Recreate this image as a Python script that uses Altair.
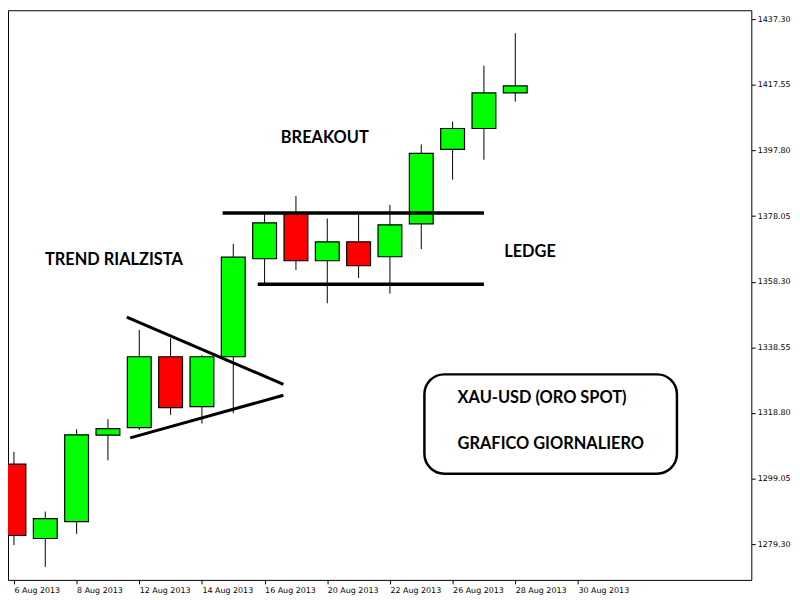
import altair as alt
import pandas as pd

# ---- data ----
trading_days = ["6 Aug 2013", "7 Aug 2013", "8 Aug 2013", "9 Aug 2013", "12 Aug 2013",
                "13 Aug 2013", "14 Aug 2013", "15 Aug 2013", "16 Aug 2013", "19 Aug 2013",
                "20 Aug 2013", "21 Aug 2013", "22 Aug 2013", "23 Aug 2013", "26 Aug 2013",
                "27 Aug 2013", "28 Aug 2013", "29 Aug 2013", "30 Aug 2013"]
opens = [1303.4, 1281.0, 1286.1, 1312.1, 1314.4, 1335.7, 1320.7, 1335.7, 1365.2,
         1378.8, 1364.6, 1370.3, 1365.8, 1375.7, 1398.1, 1404.4, 1415.1]
closes = [1281.9, 1287.0, 1312.2, 1314.1, 1335.7, 1320.4, 1335.7, 1365.7, 1376.0,
          1364.6, 1370.3, 1363.1, 1375.4, 1396.9, 1404.4, 1415.1, 1417.2]
highs = [1307.1, 1289.1, 1313.9, 1316.9, 1343.8, 1341.3, 1336.2, 1369.7, 1379.1,
         1384.1, 1377.3, 1378.8, 1381.4, 1399.6, 1406.5, 1423.3, 1433.1]
lows = [1279.0, 1272.5, 1282.4, 1304.5, 1313.7, 1318.2, 1315.6, 1318.7, 1357.8,
        1361.8, 1351.8, 1359.4, 1354.7, 1368.1, 1389.0, 1395.0, 1412.5]

y_ticks = [1279.30, 1299.05, 1318.80, 1338.55, 1358.30, 1378.05, 1397.80, 1417.55, 1437.30]
x_ticks = [0, 2, 4, 6, 8, 10, 12, 14, 16, 18]

# drawn lines (start/end in bar index and price)
seg_x1 = [6.66, 7.78, 3.60, 3.71]
seg_y1 = [1379.0, 1357.5, 1347.6, 1311.3]
seg_x2 = [15.0, 15.0, 8.60, 8.60]
seg_y2 = [1379.0, 1357.5, 1327.4, 1324.1]
seg_w = [3.5, 3.5, 3, 3]

# annotations
ann_text = ["TREND RIALZISTA", "BREAKOUT", "LEDGE"]
ann_x = [3.19, 9.92, 16.47]
ann_y = [1364.9, 1401.5, 1367.2]

box_text = ["XAU-USD (ORO SPOT)", "GRAFICO GIORNALIERO"]
box_tx = [14.16, 14.16]
box_ty = [1323.3, 1309.5]
box_x = [13.10]
box_x2 = [21.16]
box_y = [1330.4]
box_y2 = [1300.5]

# ---- tables ----
candles = pd.DataFrame({"i": list(range(len(opens))), "open": opens, "close": closes,
                        "high": highs, "low": lows})
segs = pd.DataFrame({"x1": seg_x1, "y1": seg_y1, "x2": seg_x2, "y2": seg_y2, "w": seg_w})
anns = pd.DataFrame({"t": ann_text, "x": ann_x, "y": ann_y})
btxt = pd.DataFrame({"t": box_text, "x": box_tx, "y": box_ty})
box = pd.DataFrame({"x": box_x, "x2": box_x2, "y": box_y, "y2": box_y2})

label_arr = "[" + ",".join("'%s'" % d for d in trading_days) + "]"

xscale = alt.Scale(domain=[-0.03125, 23.375], nice=False, zero=False)
yscale = alt.Scale(domain=[1268.55, 1439.99], nice=False, zero=False)

xaxis = alt.Axis(values=x_ticks, labelExpr=label_arr + "[datum.value]", title=None,
                 grid=False, domain=False, tickSize=4, tickColor="black",
                 labelAlign="left", labelPadding=3, labelFont="DejaVu Sans",
                 labelFontSize=8, labelColor="black", labelFlush=False, labelOverlap=False)
yaxis = alt.Axis(values=y_ticks, format=".2f", orient="right", title=None, grid=False,
                 domain=False, tickSize=4, tickColor="black", labelPadding=2,
                 labelFont="DejaVu Sans", labelFontSize=8, labelColor="black",
                 labelFlush=False, labelOverlap=False)

base = alt.Chart(candles)

wicks = base.mark_rule(color="black", strokeWidth=1, clip=True).encode(
    x=alt.X("i:Q", scale=xscale, axis=xaxis),
    y=alt.Y("low:Q", scale=yscale, axis=yaxis),
    y2="high:Q",
)

bodies = base.mark_bar(size=24, stroke="black", strokeWidth=1.2, clip=True).encode(
    x=alt.X("i:Q", scale=xscale),
    y=alt.Y("open:Q", scale=yscale),
    y2="close:Q",
    fill=alt.condition("datum.close < datum.open", alt.value("#FF0000"), alt.value("#00FF00")),
)

lines = alt.Chart(segs).mark_rule(color="black", strokeCap="butt", clip=True).encode(
    x=alt.X("x1:Q", scale=xscale),
    y=alt.Y("y1:Q", scale=yscale),
    x2="x2:Q",
    y2="y2:Q",
    strokeWidth=alt.StrokeWidth("w:Q", scale=None),
)

annots = alt.Chart(anns).mark_text(font="Lato", fontWeight="bold", fontSize=16.5,
                                   color="black", align="center", baseline="middle").encode(
    x=alt.X("x:Q", scale=xscale),
    y=alt.Y("y:Q", scale=yscale),
    text="t:N",
)

boxrect = alt.Chart(box).mark_rect(fill="white", fillOpacity=0, stroke="black",
                                   strokeWidth=2.5, cornerRadius=20).encode(
    x=alt.X("x:Q", scale=xscale),
    x2="x2:Q",
    y=alt.Y("y:Q", scale=yscale),
    y2="y2:Q",
)

boxtext = alt.Chart(btxt).mark_text(font="Lato", fontWeight="bold", fontSize=16.5,
                                    color="black", align="left", baseline="middle").encode(
    x=alt.X("x:Q", scale=xscale),
    y=alt.Y("y:Q", scale=yscale),
    text="t:N",
)

chart = alt.layer(wicks, bodies, lines, annots, boxrect, boxtext).properties(
    width=749, height=574,
    autosize=alt.AutoSizeParams(type="none"),
    padding={"left": 0, "top": 0, "right": 41, "bottom": 16},
    background="white",
).configure_view(stroke="black", strokeWidth=1)

chart.save("out.html", embed_options={"renderer": "svg", "actions": False})
